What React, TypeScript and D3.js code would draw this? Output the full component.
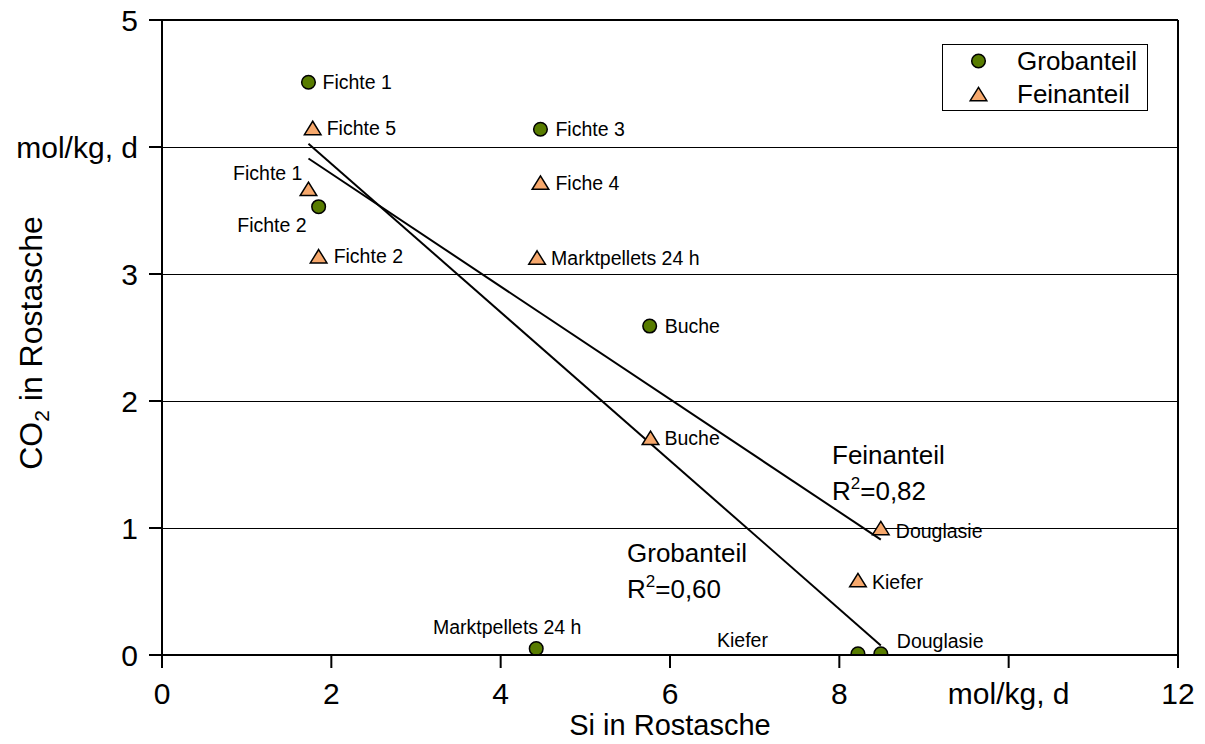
import React from "react";
import * as d3 from "d3";

// Grobanteil (coarse fraction) samples
const grobNames = ["Fichte 1", "Fichte 2", "Fichte 3", "Buche", "Marktpellets 24 h", "Kiefer", "Douglasie"];
const grobSi = [1.73, 1.85, 4.47, 5.76, 4.42, 8.22, 8.49];
const grobCO2 = [4.51, 3.53, 4.14, 2.59, 0.05, 0.01, 0.01];

// Feinanteil (fine fraction) samples
const feinNames = ["Fichte 5", "Fichte 1", "Fichte 2", "Fiche 4", "Marktpellets 24 h", "Buche", "Kiefer", "Douglasie"];
const feinSi = [1.78, 1.73, 1.85, 4.47, 4.43, 5.77, 8.22, 8.49];
const feinCO2 = [4.15, 3.67, 3.14, 3.72, 3.13, 1.71, 0.59, 1.0];

// Axis ticks and labels
const xTicks = [0, 2, 4, 6, 8, 10, 12];
const xTickLabels = ["0", "2", "4", "6", "8", "mol/kg, d", "12"];
const yTicks = [0, 1, 2, 3, 4, 5];
const yTickLabels = ["0", "1", "2", "3", "mol/kg, d", "5"];

const seriesNames = ["Grobanteil", "Feinanteil"];
const r2Labels = ["0,60", "0,82"];

// Label placement relative to each marker (pixels)
type Place = { dx: number; dy: number; anchor: "start" | "middle" | "end" };
const def: Place = { dx: 14, dy: 0, anchor: "start" };
const grobPlace: Place[] = [
  def,
  { dx: -12, dy: 18, anchor: "end" },
  { dx: 15, dy: 0, anchor: "start" },
  { dx: 15, dy: 0, anchor: "start" },
  { dx: -29, dy: -22, anchor: "middle" },
  { dx: -90, dy: -14, anchor: "end" },
  { dx: 16, dy: -13, anchor: "start" },
];
const feinPlace: Place[] = [
  def,
  { dx: -6, dy: -16, anchor: "end" },
  { dx: 15, dy: 0, anchor: "start" },
  { dx: 15, dy: 0, anchor: "start" },
  def,
  def,
  { dx: 14, dy: 2, anchor: "start" },
  { dx: 15, dy: 3, anchor: "start" },
];

const FONT = "'Liberation Sans', Arial, Helvetica, sans-serif";
const GREEN = "#587c00";
const ORANGE = "#f6a86c";

// Least-squares line through the points, spanning the x range of the data
function fit(xs: number[], ys: number[]) {
  const mx = d3.mean(xs)!;
  const my = d3.mean(ys)!;
  const sxy = d3.sum(xs, (x, i) => (x - mx) * (ys[i] - my));
  const sxx = d3.sum(xs, (x) => (x - mx) * (x - mx));
  const b = sxy / sxx;
  const a = my - b * mx;
  const [x0, x1] = d3.extent(xs) as [number, number];
  return [
    [x0, a + b * x0],
    [x1, a + b * x1],
  ] as [number, number][];
}

const Tri = ({ x, y }: { x: number; y: number }) => (
  <path
    d={`M${x},${y - 6.7}L${x + 8.3},${y + 6.7}L${x - 8.3},${y + 6.7}Z`}
    fill={ORANGE}
    stroke="#000"
    strokeWidth={1.5}
    strokeLinejoin="miter"
  />
);
const Dot = ({ x, y }: { x: number; y: number }) => (
  <circle cx={x} cy={y} r={6.8} fill={GREEN} stroke="#000" strokeWidth={1.5} />
);

export default function App() {
  const W = 1205;
  const H = 744;
  const left = 162;
  const right = 1178;
  const top = 20;
  const bottom = 655;

  const x = d3.scaleLinear().domain([0, 12]).range([left, right]);
  const y = d3.scaleLinear().domain([0, 5]).range([bottom, top]);
  const line = d3
    .line<[number, number]>()
    .x((d) => x(d[0]))
    .y((d) => y(d[1]));

  const grobFit = fit(grobSi, grobCO2);
  const feinFit = fit(feinSi, feinCO2);

  const labelFs = 19.5;
  const labelText = (px: number, py: number, p: Place, text: string, key: string) => (
    <text
      key={key}
      x={px + p.dx}
      y={py + p.dy + labelFs * 0.36}
      fontSize={labelFs}
      textAnchor={p.anchor}
      fontFamily={FONT}
      fill="#000"
    >
      {text}
    </text>
  );

  return (
    <svg
      width={W}
      height={H}
      style={{ position: "absolute", left: 0, top: 0, background: "#fff" }}
      fontFamily={FONT}
    >
      <defs>
        <clipPath id="plotClip">
          <rect x={left} y={top} width={right - left} height={bottom - top} />
        </clipPath>
      </defs>
      <rect x={0} y={0} width={W} height={H} fill="#fff" />

      {/* horizontal gridlines */}
      {yTicks
        .filter((t) => t > 0 && t < 5)
        .map((t) => (
          <line
            key={`g${t}`}
            x1={left}
            x2={right}
            y1={Math.round(y(t)) + 0.5}
            y2={Math.round(y(t)) + 0.5}
            stroke="#000"
            strokeWidth={1}
          />
        ))}

      {/* regression lines */}
      <path d={line(grobFit)!} fill="none" stroke="#000" strokeWidth={2} />
      <path d={line(feinFit)!} fill="none" stroke="#000" strokeWidth={2} />

      {/* markers */}
      <g clipPath="url(#plotClip)">
        {grobSi.map((v, i) => (
          <Dot key={`gd${i}`} x={x(v)} y={y(grobCO2[i])} />
        ))}
        {feinSi.map((v, i) => (
          <Tri key={`fd${i}`} x={x(v)} y={y(feinCO2[i])} />
        ))}
      </g>

      {/* point labels */}
      {grobNames.map((n, i) => labelText(x(grobSi[i]), y(grobCO2[i]), grobPlace[i], n, `gl${i}`))}
      {feinNames.map((n, i) => labelText(x(feinSi[i]), y(feinCO2[i]), feinPlace[i], n, `fl${i}`))}

      {/* frame and axes */}
      <line x1={left} x2={right} y1={top} y2={top} stroke="#000" strokeWidth={2} />
      <line x1={right} x2={right} y1={top} y2={bottom} stroke="#000" strokeWidth={2} />
      <line x1={left} x2={left} y1={top} y2={bottom + 1} stroke="#000" strokeWidth={2} />
      <line x1={left - 1} x2={right + 1} y1={bottom} y2={bottom} stroke="#000" strokeWidth={2} />

      {xTicks.map((t, i) => (
        <g key={`xt${t}`}>
          <line x1={x(t)} x2={x(t)} y1={bottom} y2={bottom + 13} stroke="#000" strokeWidth={2} />
          <text x={x(t)} y={704} fontSize={30} textAnchor="middle">
            {xTickLabels[i]}
          </text>
        </g>
      ))}
      {yTicks.map((t, i) => (
        <g key={`yt${t}`}>
          <line x1={left - 13} x2={left} y1={y(t)} y2={y(t)} stroke="#000" strokeWidth={2} />
          <text x={138} y={y(t) + 30 * 0.36} fontSize={30} textAnchor="end">
            {yTickLabels[i]}
          </text>
        </g>
      ))}

      {/* axis titles */}
      <text x={(left + right) / 2} y={735} fontSize={29} textAnchor="middle">
        Si in Rostasche
      </text>
      <text transform={`translate(42,343) rotate(-90)`} fontSize={32} textAnchor="middle">
        CO<tspan fontSize={21} dy={7}>2</tspan>
        <tspan dy={-7}> in Rostasche</tspan>
      </text>

      {/* fit annotations */}
      <text x={832} y={464} fontSize={26}>{seriesNames[1]}</text>
      <text x={832} y={500} fontSize={26}>
        R<tspan fontSize={17} dy={-11}>2</tspan>
        <tspan dy={11}>={r2Labels[1]}</tspan>
      </text>
      <text x={627} y={562} fontSize={26}>{seriesNames[0]}</text>
      <text x={627} y={598} fontSize={26}>
        R<tspan fontSize={17} dy={-11}>2</tspan>
        <tspan dy={11}>={r2Labels[0]}</tspan>
      </text>

      {/* legend */}
      <rect x={942.5} y={44.5} width={205} height={66} fill="#fff" stroke="#000" strokeWidth={1} />
      <Dot x={978.5} y={61} />
      <text x={1017} y={61 + 26 * 0.36} fontSize={26}>{seriesNames[0]}</text>
      <Tri x={978.5} y={94} />
      <text x={1017} y={94 + 26 * 0.36} fontSize={26}>{seriesNames[1]}</text>
    </svg>
  );
}
